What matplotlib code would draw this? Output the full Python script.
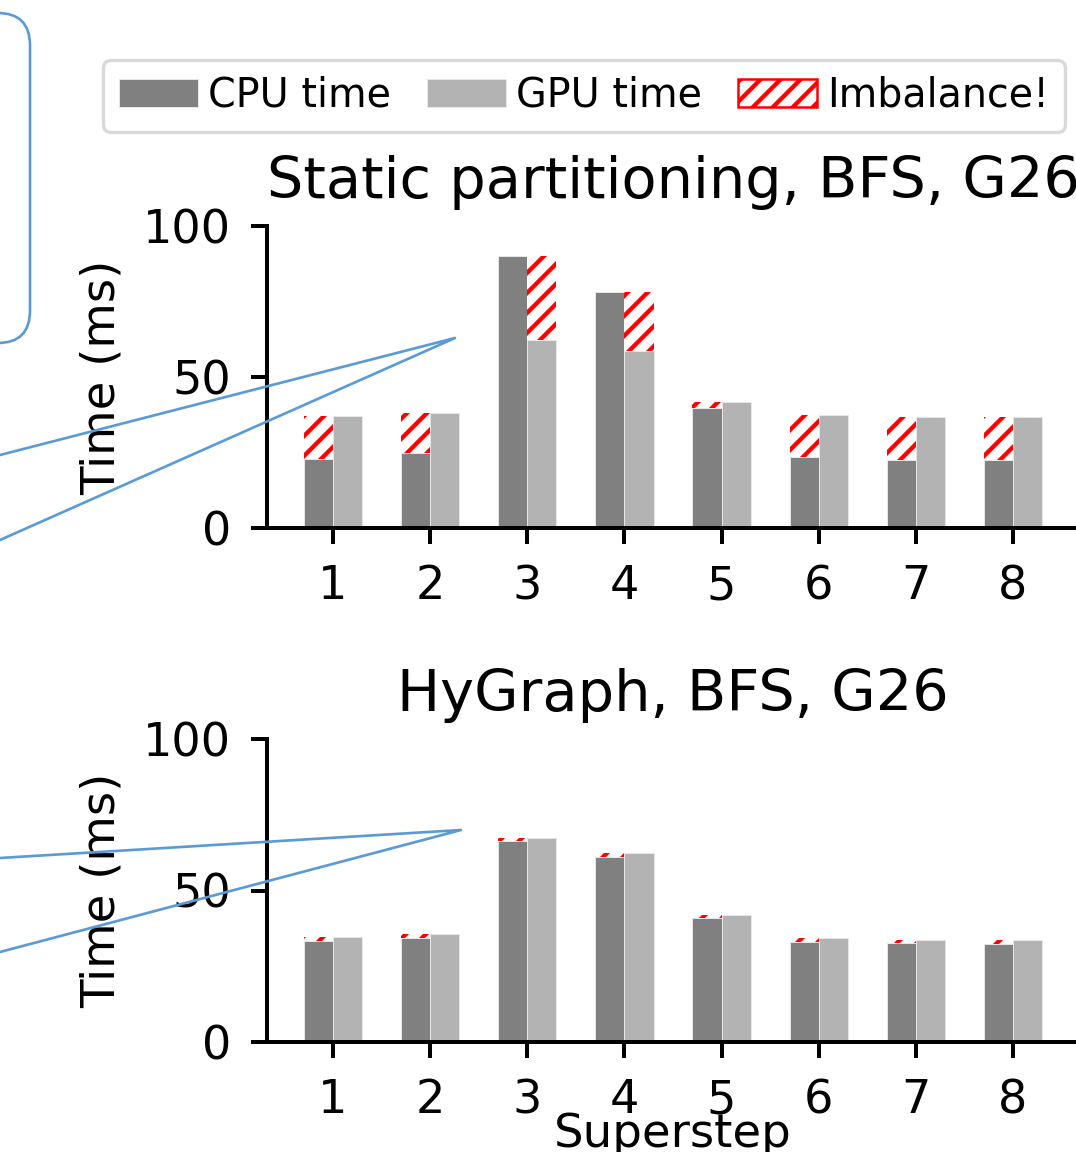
import matplotlib
matplotlib.use('Agg')
import matplotlib.pyplot as plt
from matplotlib.patches import FancyBboxPatch
from matplotlib.lines import Line2D
import numpy as np

# 数据
steps = [1, 2, 3, 4, 5, 6, 7, 8]
static_cpu = [22.7, 24.7, 90.2, 78.3, 39.7, 23.6, 22.5, 22.5]
static_gpu = [37.1, 38.1, 62.3, 58.6, 41.6, 37.5, 36.9, 36.9]
hy_cpu = [33.4, 34.3, 66.4, 61.2, 40.8, 33.1, 32.6, 32.2]
hy_gpu = [34.8, 35.6, 67.4, 62.4, 42.0, 34.4, 33.8, 33.7]
titles = ['Static partitioning, BFS, G26', 'HyGraph, BFS, G26']

DPI = 120
plt.rcParams['font.family'] = ['DejaVu Sans']
plt.rcParams['hatch.linewidth'] = 2.6

fig = plt.figure(figsize=(1076 / DPI, 1152 / DPI), dpi=DPI)
W, H = 1076.0, 1152.0
ax1 = fig.add_axes([267 / W, (H - 528) / H, 812 / W, 302 / H])
ax2 = fig.add_axes([267 / W, (H - 1042) / H, 812 / W, 303 / H])

bw = 0.3
for ax, cpu, gpu, title in [(ax1, static_cpu, static_gpu, titles[0]),
                            (ax2, hy_cpu, hy_gpu, titles[1])]:
    x = np.array(steps)
    cpu = np.array(cpu)
    gpu = np.array(gpu)
    ax.bar(x - bw / 2, cpu, bw, color='#808080', edgecolor='#e6e6e6', linewidth=0.6, label='CPU time')
    ax.bar(x + bw / 2, gpu, bw, color='#b3b3b3', edgecolor='#e6e6e6', linewidth=0.6, label='GPU time')
    # 不平衡部分：画在较短的柱子上面
    lo = np.minimum(cpu, gpu)
    hi = np.maximum(cpu, gpu)
    pos = np.where(cpu < gpu, x - bw / 2, x + bw / 2)
    ax.bar(pos, hi - lo, bw, bottom=lo, color='white', edgecolor='red', linewidth=0, hatch='//')
    ax.bar(1, 0, 2 * bw, color='white', edgecolor='red', linewidth=1.5, hatch='//', label='Imbalance!')

    ax.set_xlim(0.32, 8.68)
    ax.set_ylim(0, 100)
    ax.set_xticks(steps)
    ax.set_yticks([0, 50, 100])
    ax.spines['top'].set_visible(False)
    ax.spines['right'].set_visible(False)
    ax.spines['left'].set_linewidth(2.4)
    ax.spines['bottom'].set_linewidth(2.4)
    ax.tick_params(labelsize=27.7, length=9.6, width=2.4, pad=12)
    ax.set_title(title, fontsize=34.4, pad=17)
    ax.set_ylabel('Time (ms)', fontsize=28)
    ax.yaxis.set_label_coords(-0.175, 0.5)

ax2.set_xlabel('Superstep', fontsize=28, va='top')
ax2.xaxis.set_label_coords(0.5, -0.232)

h, l = ax1.get_legend_handles_labels()
leg = fig.legend(h, l, loc='upper center', bbox_to_anchor=(584 / W, 1 - 40 / H), ncol=3,
                 fontsize=23.8, handletextpad=0.25, columnspacing=0.9, fancybox=True)
leg.get_frame().set_edgecolor('#d0d0d0')
leg.get_frame().set_linewidth(2)

# 外部标注（蓝色框和连线）
blue = '#5B9BD5'
tr = fig.dpi_scale_trans
box = FancyBboxPatch((-200 / DPI, (H - 343) / DPI), 230 / DPI, 330 / DPI,
                     boxstyle='round,pad=0,rounding_size=0.27', transform=tr,
                     facecolor='none', edgecolor=blue, linewidth=1.6)
fig.add_artist(box)
for pts in [[(0, 455), (455, 338), (0, 540)], [(0, 858), (461, 830), (0, 952)]]:
    xs = [p[0] / DPI for p in pts]
    ys = [(H - p[1]) / DPI for p in pts]
    fig.add_artist(Line2D(xs, ys, transform=tr, color=blue, linewidth=1.6, zorder=10))

fig.savefig('out.png', dpi=DPI)
